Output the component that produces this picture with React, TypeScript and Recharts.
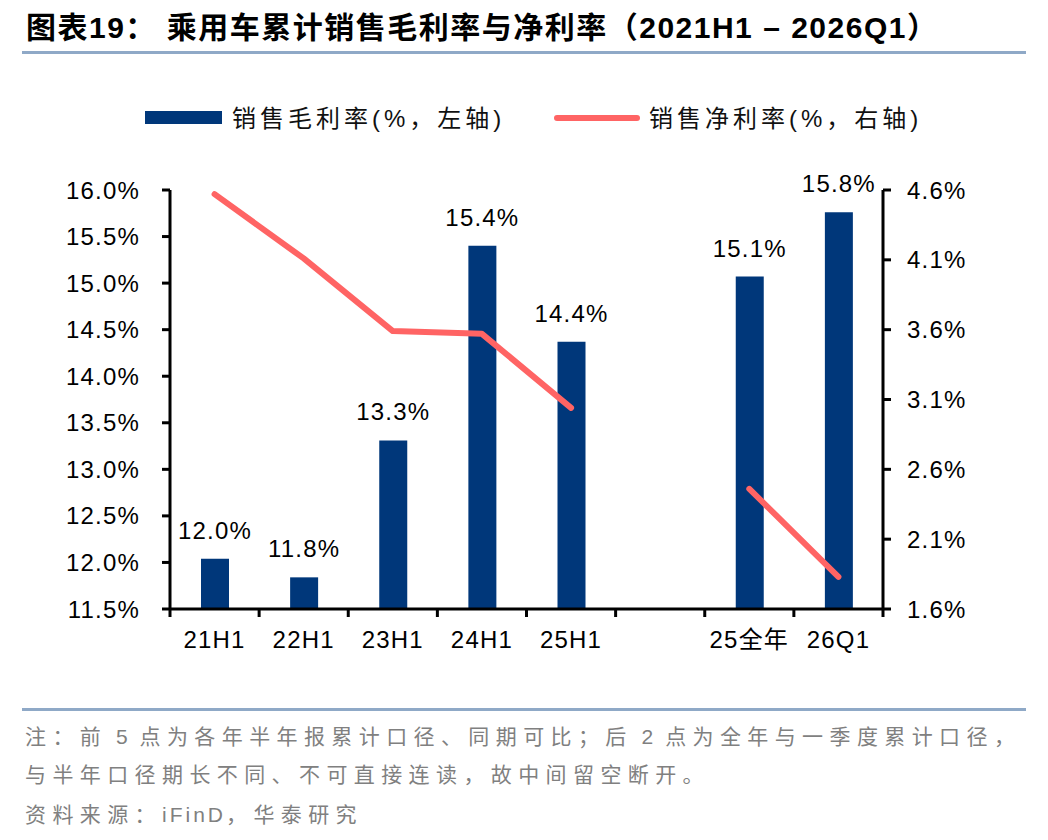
import React from "react";
import {
  ComposedChart, Bar, Line, XAxis, YAxis, LabelList,
} from "recharts";

// 乘用车累计销售毛利率（左轴）与净利率（右轴）
const categories = ["21H1", "22H1", "23H1", "24H1", "25H1", "", "25全年", "26Q1"];
const grossMargin = [12.04, 11.84, 13.31, 15.4, 14.37, null, 15.07, 15.76];
const netMargin = [4.57, 4.11, 3.59, 3.57, 3.04, null, 2.46, 1.83];
const leftTicks = [11.5, 12, 12.5, 13, 13.5, 14, 14.5, 15, 15.5, 16];
const rightTicks = [1.6, 2.1, 2.6, 3.1, 3.6, 4.1, 4.6];

const data = categories.map((c, i) => ({
  name: c,
  gross: grossMargin[i],
  net: netMargin[i],
}));

const BAR = "#00377A";
const RED = "#FF6464";
const RULE = "#8FA9C7";
const LATIN = "'Liberation Sans', Arial, 'Noto Sans CJK SC', sans-serif";
const NUM_SIZE = 24;
const NUM_SPACING = 1.2;

const pct = (v: number) => `${v.toFixed(1)}%`;

const TICK_SIZE = 8;
const TICK_MARGIN = 14;

// category labels at band centre, tick marks on band edges
const CategoryTick = (props: any) => {
  const { x, y, payload, index, visibleTicksCount } = props;
  const half = payload?.offset ?? 44.5;
  const top = y - TICK_MARGIN - TICK_SIZE;
  const bottom = y - TICK_MARGIN;
  return (
    <g>
      <line x1={x - half} x2={x - half} y1={top} y2={bottom} stroke="#000" strokeWidth={3} />
      {index === visibleTicksCount - 1 && (
        <line x1={x + half} x2={x + half} y1={top} y2={bottom} stroke="#000" strokeWidth={3} />
      )}
      <text x={x} y={y} dy="0.71em" textAnchor="middle" fontSize={NUM_SIZE} letterSpacing={NUM_SPACING} fill="#000" fontFamily={LATIN}>
        {payload.value}
      </text>
    </g>
  );
};

const note: React.CSSProperties = {
  position: "absolute", left: 25, fontSize: 21, lineHeight: "24px",
  letterSpacing: 6.4, whiteSpace: "nowrap", color: "#808080",
};
const latin: React.CSSProperties = { letterSpacing: 3 };

export default function App() {
  return (
    <div style={{ position: "absolute", left: 0, top: 0, width: 1048, height: 840, background: "#fff", fontFamily: LATIN }}>
      <div style={{ position: "absolute", left: 26, top: 12, fontSize: 30, lineHeight: "32px", fontWeight: "bold", letterSpacing: 1.5, whiteSpace: "nowrap", color: "#000" }}>
        图表19： 乘用车累计销售毛利率与净利率（2021H1 – 2026Q1）
      </div>
      <div style={{ position: "absolute", left: 22, top: 51, width: 1004, height: 3, background: RULE }} />

      {/* legend */}
      <div style={{ position: "absolute", left: 145, top: 111, width: 77, height: 13, background: BAR }} />
      <div style={{ position: "absolute", left: 232, top: 105, fontSize: 24, lineHeight: "28px", letterSpacing: 4, whiteSpace: "nowrap", color: "#111" }}>
        销售毛利率(%，左轴)
      </div>
      <div style={{ position: "absolute", left: 554, top: 115, width: 86, height: 6, borderRadius: 3, background: RED }} />
      <div style={{ position: "absolute", left: 649, top: 105, fontSize: 24, lineHeight: "28px", letterSpacing: 4, whiteSpace: "nowrap", color: "#111" }}>
        销售净利率(%，右轴)
      </div>

      <div style={{ position: "absolute", left: 0, top: 0 }}>
        <ComposedChart
          width={1048}
          height={700}
          data={data}
          margin={{ top: 190, right: 75, bottom: 51, left: 0 }}
        >
          <XAxis
            dataKey="name"
            height={40}
            axisLine={{ stroke: "#000", strokeWidth: 3 }}
            tickLine={false}
            tickSize={TICK_SIZE}
            tickMargin={TICK_MARGIN}
            interval={0}
            tick={<CategoryTick />}
          />
          <YAxis
            yAxisId="left"
            orientation="left"
            width={170}
            domain={[11.5, 16]}
            ticks={leftTicks}
            tickFormatter={pct}
            axisLine={{ stroke: "#000", strokeWidth: 3 }}
            tickLine={{ stroke: "#000", strokeWidth: 3 }}
            tickSize={8}
            tickMargin={22}
            tick={{ fill: "#000", fontSize: NUM_SIZE, letterSpacing: NUM_SPACING, fontFamily: LATIN }}
            allowDataOverflow
          />
          <YAxis
            yAxisId="right"
            orientation="right"
            width={90}
            domain={[1.6, 4.6]}
            ticks={rightTicks}
            tickFormatter={pct}
            axisLine={{ stroke: "#000", strokeWidth: 3 }}
            tickLine={{ stroke: "#000", strokeWidth: 3 }}
            tickSize={8}
            tickMargin={16}
            tick={{ fill: "#000", fontSize: NUM_SIZE, letterSpacing: NUM_SPACING, fontFamily: LATIN }}
            allowDataOverflow
          />
          <Bar yAxisId="left" dataKey="gross" fill={BAR} barSize={28} isAnimationActive={false}>
            <LabelList
              dataKey="gross"
              position="top"
              offset={20}
              formatter={(v: any) => (v == null ? "" : pct(Number(v)))}
              style={{ fill: "#000", fontSize: NUM_SIZE, letterSpacing: NUM_SPACING, fontFamily: LATIN }}
            />
          </Bar>
          <Line
            yAxisId="right"
            dataKey="net"
            stroke={RED}
            strokeWidth={6}
            strokeLinecap="round"
            strokeLinejoin="round"
            dot={false}
            activeDot={false}
            isAnimationActive={false}
          />
        </ComposedChart>
      </div>

      {/* notes */}
      <div style={{ position: "absolute", left: 22, top: 708, width: 1004, height: 3, background: RULE }} />
      <div style={{ ...note, top: 725 }}>
        注：前<span style={latin}> 5 </span>点为各年半年报累计口径、同期可比；后<span style={latin}> 2 </span>点为全年与一季度累计口径，
      </div>
      <div style={{ ...note, top: 763 }}>
        与半年口径期长不同、不可直接连读，故中间留空断开。
      </div>
      <div style={{ ...note, top: 803 }}>
        资料来源：<span style={latin}>iFinD</span>，华泰研究
      </div>
    </div>
  );
}
